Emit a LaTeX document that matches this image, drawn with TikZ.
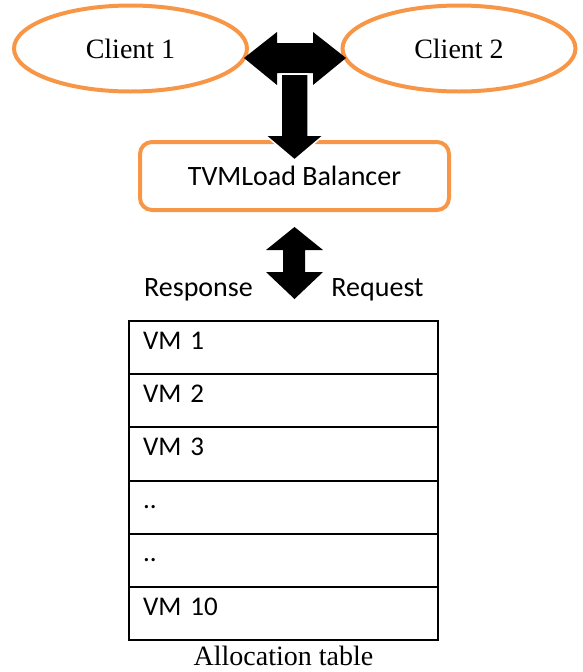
\documentclass[tikz,border=0pt]{standalone}
\usepackage{fontspec}
\setmainfont{Liberation Serif}
\newfontfamily\carlito{Carlito}
\usetikzlibrary{shapes.geometric}
\definecolor{boxorange}{RGB}{247,150,70}

\begin{document}
\begin{tikzpicture}[x=1pt,y=-1pt,
  client/.style={ellipse,draw=boxorange,line width=4pt,minimum width=233pt,minimum height=86pt,font=\fontsize{28}{30}\selectfont},
  balancer/.style={draw=boxorange,line width=4pt,rounded corners=12pt,minimum width=309pt,minimum height=68pt,font=\carlito\fontsize{28}{30}\selectfont},
  vmrow/.style={draw,line width=2pt,anchor=north west,text width=281pt,align=left,inner xsep=14pt,inner ysep=0pt,text height=28pt,text depth=25.2pt,font=\carlito\fontsize{27}{29}\selectfont},
  blockarrow/.style={fill=black,draw=white,line width=1.5pt,line join=miter}]
\useasboundingbox (0,0) rectangle (582,672);

% Clients
\node[client] (client1) at (130.5,48.5) {Client 1};
\node[client] (client2) at (459,48.5) {Client 2};

% Load balancer
\node[balancer] (lb) at (294.5,176) {TVMLoad Balancer};

% Allocation table
\foreach \vm [count=\i] in {VM 1,VM 2,VM 3,{..},{..},VM 10}
  \node[vmrow] (row\i) at (128,{320+53.2*(\i-1)}) {\vm};
\node[anchor=base,font=\fontsize{28}{30}\selectfont] (alloc) at ([yshift=-24pt]row6.south) {Allocation table};

% Arrow between the clients
\coordinate (ltip) at (244,58);
\fill[black] (ltip) -- ++(33,-26) -- ++(0,11) -- ++(36,0) -- ++(0,-11) -- ++(33,26)
  -- ++(-33,27) -- ++(0,-12) -- ++(-36,0) -- ++(0,12) -- cycle;

% Arrow down to the balancer
\coordinate (dtip) at ([yshift=-20pt]lb.north);
\filldraw[blockarrow] (dtip) -- ++(29.5,-25) -- ++(-16,0) -- ++(0,-61) -- ++(-27,0)
  -- ++(0,61) -- ++(-16,0) -- cycle;

% Response / Request arrow
\coordinate (utip) at ([yshift=-15pt]lb.south);
\fill[black] (utip) -- ++(28.5,23) -- ++(-18,0) -- ++(0,22) -- ++(18,0) -- ++(-28.5,27)
  -- ++(-28.5,-27) -- ++(17,0) -- ++(0,-22) -- ++(-17,0) -- cycle;
\node[anchor=base,font=\carlito\fontsize{28}{30}\selectfont] (resp) at (198.5,296) {Response};
\node[anchor=base,font=\carlito\fontsize{28}{30}\selectfont] (req) at (377.5,296) {Request};

\end{tikzpicture}
\end{document}
